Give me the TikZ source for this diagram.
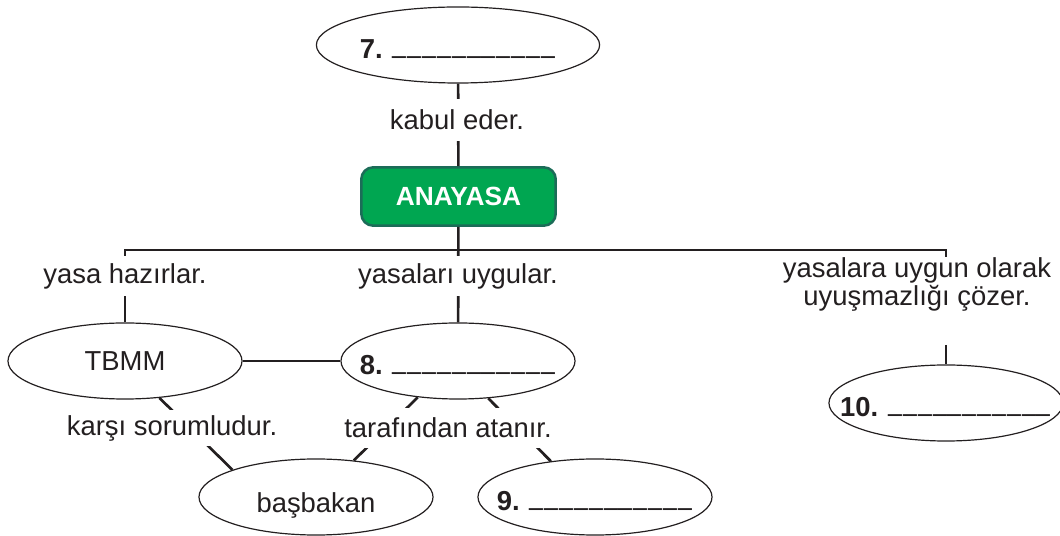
\documentclass[tikz,border=0pt]{standalone}
\usepackage{fontspec}
\setmainfont{Liberation Sans}
\usepackage{tikz}
\usepackage{xcolor}
\usepackage{graphicx}
\usetikzlibrary{shapes.geometric}

\definecolor{boxgreen}{RGB}{0,166,81}
\definecolor{boxedge}{RGB}{28,108,88}
\definecolor{ink}{RGB}{35,31,32}
\newcommand{\cizgi}{\foreach \i in {1,...,11}{\raisebox{4.3pt}{\scalebox{0.9}[1.8]{\_}}\kern0.8pt}}

\begin{document}
\begin{tikzpicture}[
    x=0.025cm, y=-0.025cm,
    font=\fontsize{19.5}{19.5}\selectfont,
    oval/.style={draw=ink, line width=0.85pt, ellipse, inner sep=0pt, minimum width=5.85cm, minimum height=1.9cm},
    blank/.style={font=\fontsize{19.5}{19.5}\selectfont\bfseries, text=ink, yshift=-0.1cm},
    kutu/.style={fill=boxgreen, draw=boxedge, line width=1.8pt, rounded corners=0.3cm, minimum width=4.86cm, minimum height=1.46cm, text=white, font=\fontsize{18.7}{18.7}\selectfont\bfseries},
    conn/.style={draw=ink, line width=1.9pt},
    lbl/.style={fill=white, inner xsep=2pt, inner ysep=0pt, text=ink, align=center}
]
\useasboundingbox (0,0) rectangle (1060,536);

\node[oval, minimum width=7.08cm, label={[blank]center:7. \cizgi}] (e7) at (458,45) {};
\node[kutu] (anayasa) at (458.5,196.5) {ANAYASA};
\node[oval, label={[text=ink]center:TBMM}] (tbmm) at (125,361) {};
\node[oval, label={[blank]center:8. \cizgi}] (e8) at (458,361) {};
\node[oval, label={[text=ink, yshift=-0.2cm]center:başbakan}] (basbakan) at (316,497) {};
\node[oval, label={[blank]center:9. \cizgi}] (e9) at (595,497) {};
\node[oval, label={[blank]center:10. \cizgi}] (e10) at (946,403) {};
\node[lbl, anchor=north, font=\fontsize{19.5}{20.5}\selectfont] (lright) at (917,257) {yasalara uygun olarak\\uyuşmazlığı çözer.};

\coordinate (barR) at (946,250);
\coordinate (r10) at (946,345);

\draw[conn] (e7) -- (anayasa);
\draw[conn] (anayasa) -- (e8);
\draw[conn] (tbmm) |- (barR) -- (lright.north -| barR);
\draw[conn] (r10) -- (e10);
\draw[conn] (tbmm) -- (e8);
\draw[conn] (tbmm.-47) -- (basbakan.162);
\draw[conn] (e8.-138) -- (basbakan.44);
\draw[conn] (e8.-51) -- (e9.141);

\node[lbl, minimum height=1.05cm] (lkabul) at (457,120) {kabul eder.};
\node[lbl, minimum height=1cm] (lyasa) at (125,276) {yasa hazırlar.};
\node[lbl, minimum height=1cm] (luygula) at (458,276) {yasaları uygular.};
\node[lbl, minimum height=0.875cm] (lsorumlu) at (172,428) {karşı sorumludur.};
\node[lbl, minimum height=1cm] (ltaraf) at (448,428) {tarafından atanır.};
\end{tikzpicture}
\end{document}
